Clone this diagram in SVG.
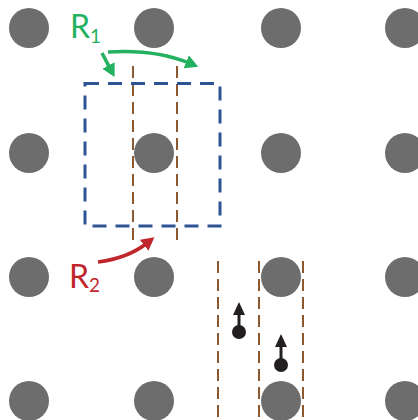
<svg xmlns="http://www.w3.org/2000/svg" width="418" height="420" viewBox="0 0 418 420">
  <style>
    .atom { fill: #6D6D6D; }
    .cell { fill: none; stroke: #2F5496; stroke-width: 3; stroke-dasharray: 14 9; }
    .plane { fill: none; stroke: #8B5A33; stroke-width: 2; stroke-dasharray: 12 6; }
    .lbl { font-family: Lato, "Open Sans", sans-serif; }
    .green { fill: #23B15F; }
    .red { fill: #C0272D; }
    .garrow { fill: none; stroke: #23B15F; stroke-width: 3.5; }
    .rarrow { fill: none; stroke: #C0272D; stroke-width: 3.5; }
    .karrow { fill: none; stroke: #231F20; stroke-width: 3; }
  </style>
  <defs>
    <marker id="hg" markerUnits="userSpaceOnUse" markerWidth="13" markerHeight="14" refX="3" refY="7" orient="auto">
      <path d="M0,0 L13,7 L0,14 z" fill="#23B15F"/>
    </marker>
    <marker id="hr" markerUnits="userSpaceOnUse" markerWidth="13" markerHeight="14" refX="3" refY="7" orient="auto">
      <path d="M0,0 L13,7 L0,14 z" fill="#C0272D"/>
    </marker>
    <marker id="hk" markerUnits="userSpaceOnUse" markerWidth="13" markerHeight="12" refX="1" refY="6" orient="auto">
      <path d="M0,0 L13,6 L0,12 z" fill="#231F20"/>
    </marker>
  </defs>

  <g id="atoms">
    <circle class="atom" cx="29" cy="28" r="20"/>
    <circle class="atom" cx="154" cy="28" r="20"/>
    <circle class="atom" cx="281" cy="28" r="20"/>
    <circle class="atom" cx="405" cy="28" r="20"/>
    <circle class="atom" cx="29" cy="153" r="20"/>
    <circle class="atom" cx="154" cy="153" r="20"/>
    <circle class="atom" cx="281" cy="153" r="20"/>
    <circle class="atom" cx="405" cy="153" r="20"/>
    <circle class="atom" cx="29" cy="277" r="20"/>
    <circle class="atom" cx="154" cy="277" r="20"/>
    <circle class="atom" cx="281" cy="277" r="20"/>
    <circle class="atom" cx="405" cy="277" r="20"/>
    <circle class="atom" cx="29" cy="401" r="20"/>
    <circle class="atom" cx="154" cy="401" r="20"/>
    <circle class="atom" cx="281" cy="401" r="20"/>
    <circle class="atom" cx="405" cy="401" r="20"/>
  </g>

  <g id="planes">
    <line class="plane" x1="133" y1="66" x2="133" y2="241"/>
    <line class="plane" x1="177" y1="66" x2="177" y2="241"/>
    <line class="plane" x1="218" y1="261" x2="218" y2="420"/>
    <line class="plane" x1="259" y1="261" x2="259" y2="420"/>
    <line class="plane" x1="303" y1="261" x2="303" y2="420"/>
  </g>

  <g id="cell">
    <rect class="cell" x="85" y="83.5" width="135" height="142.5"/>
  </g>

  <g id="label-R1">
    <text class="lbl green" x="70" y="38" font-size="32">R<tspan font-size="19" dy="5">1</tspan></text>
  </g>
  <g id="label-R2">
    <text class="lbl red" x="69" y="288" font-size="32">R<tspan font-size="19" dy="4">2</tspan></text>
  </g>

  <g id="particle-1">
    <circle cx="239" cy="332" r="7" fill="#231F20"/>
  </g>
  <g id="particle-2">
    <circle cx="281" cy="365" r="7" fill="#231F20"/>
  </g>

  <g id="connectors">
    <path class="garrow" d="M102,53 L109.9,68.1" marker-end="url(#hg)"/>
    <path class="garrow" d="M108,52 Q155,49 189,63" marker-end="url(#hg)"/>
    <path class="rarrow" d="M98,262 Q128,258 146.5,243.5" marker-end="url(#hr)"/>
    <path class="karrow" d="M239,332 L239,314" marker-end="url(#hk)"/>
    <path class="karrow" d="M281,365 L281,346" marker-end="url(#hk)"/>
  </g>
</svg>
